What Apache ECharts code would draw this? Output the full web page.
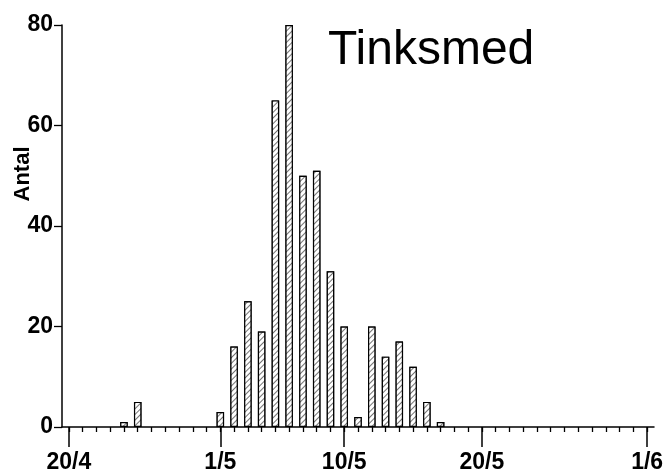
<!DOCTYPE html>
<html>
<head>
<meta charset="utf-8">
<script src="https://cdn.jsdelivr.net/npm/echarts@6/dist/echarts.min.js"></script>
<style>
html,body{margin:0;padding:0;background:#fff;}
#chart{width:663px;height:472px;}
</style>
</head>
<body>
<div id="chart"></div>
<script>
// Days from 20/4 to 1/6
const days = ["20/4","21/4","22/4","23/4","24/4","25/4","26/4","27/4","28/4","29/4","30/4",
  "1/5","2/5","3/5","4/5","5/5","6/5","7/5","8/5","9/5","10/5","11/5","12/5","13/5","14/5","15/5",
  "16/5","17/5","18/5","19/5","20/5","21/5","22/5","23/5","24/5","25/5","26/5","27/5","28/5","29/5",
  "30/5","31/5","1/6"];
// Antal per day
const counts = [0,0,0,0,1,5,0,0,0,0,0,
  3,16,25,19,65,80,50,51,31,20,2,20,14,17,12,5,1,
  0,0,0,0,0,0,0,0,0,0,0,0,0,0,0];
const tickLabels = ["20/4","1/5","10/5","20/5","1/6"];
const yTicks = [0,20,40,60,80];

const isMajor = (i, v) => tickLabels.indexOf(v !== undefined ? v : days[i]) >= 0;
const font = '"Liberation Sans", Arial, Helvetica, sans-serif';

const chart = echarts.init(document.getElementById('chart'), null, {renderer: 'canvas'});
chart.setOption({
  animation: false,
  backgroundColor: '#fff',
  title: {
    text: 'Tinksmed',
    left: 323, top: 22,
    textStyle: {fontFamily: font, fontSize: 48, fontWeight: 'normal', color: '#000'}
  },
  graphic: [{
    type: 'text', x: 23, y: 174, rotation: Math.PI / 2,
    style: {text: 'Antal', font: 'bold 22px ' + font, fill: '#000',
      textAlign: 'center', textVerticalAlign: 'middle'}
  }],
  grid: {left: 62, right: 9, top: 25, bottom: 45, containLabel: false, outerBoundsMode: 'none'},
  xAxis: [
    {
      type: 'category', data: days, boundaryGap: true, position: 'bottom',
      axisLine: {show: true, lineStyle: {color: '#000', width: 1.5}},
      axisTick: {show: true, alignWithLabel: true, interval: 0, length: 5, lineStyle: {color: '#000', width: 1.3}},
      axisLabel: {show: false},
      splitLine: {show: false}
    },
    {
      type: 'category', data: days, boundaryGap: true, position: 'bottom', offset: 0,
      axisLine: {show: false},
      axisTick: {show: true, alignWithLabel: true, interval: (i, v) => isMajor(i, v), length: 20, lineStyle: {color: '#000', width: 1.5}},
      axisLabel: {show: true, interval: (i, v) => isMajor(i, v), margin: 24, color: '#000',
        fontFamily: font, fontSize: 23, fontWeight: 'bold'},
      splitLine: {show: false}
    }
  ],
  yAxis: {
    type: 'value', min: yTicks[0], max: yTicks[yTicks.length - 1], interval: 20,
    axisLine: {show: true, lineStyle: {color: '#000', width: 1.5}},
    axisTick: {show: true, inside: false, length: 8, lineStyle: {color: '#000', width: 1.3}},
    axisLabel: {color: '#000', fontFamily: font, fontSize: 23, fontWeight: 'bold', margin: 9},
    splitLine: {show: false}
  },
  series: [{
    type: 'bar',
    xAxisIndex: 0,
    data: counts.map(v => v === 0 ? '-' : v),
    barWidth: 7.5,
    itemStyle: {
      color: '#fff',
      borderColor: '#000',
      borderWidth: 1.2,
      decal: {
        symbol: 'rect', symbolSize: 1,
        dashArrayX: [1, 0], dashArrayY: [1, 3],
        rotation: -Math.PI / 4,
        color: 'rgba(0,0,0,0.55)',
        backgroundColor: '#fff'
      }
    }
  }]
});
</script>
</body>
</html>
